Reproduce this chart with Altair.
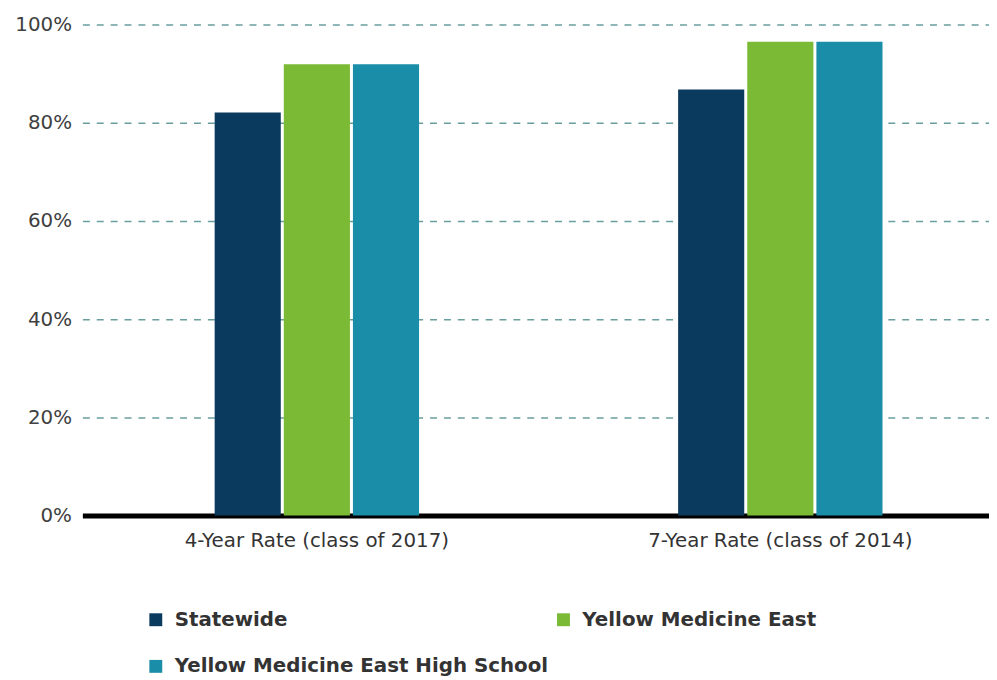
import altair as alt
import pandas as pd

groups = ["4-Year Rate (class of 2017)", "7-Year Rate (class of 2014)"]
series = ["Statewide", "Yellow Medicine East", "Yellow Medicine East High School"]
statewide = [0.821, 0.868]
yme = [0.919, 0.965]
yme_hs = [0.919, 0.965]
colors = ["#0b3a5f", "#7aba34", "#1a8ea8"]
y_ticks = [0, 0.2, 0.4, 0.6, 0.8, 1.0]

rows = []
for s, vals in zip(series, [statewide, yme, yme_hs]):
    for g, v in zip(groups, vals):
        rows.append({"group": g, "series": s, "value": v})
df = pd.DataFrame(rows)

chart = alt.Chart(df).mark_bar().encode(
    x=alt.X(
        "group:N", sort=groups, title=None,
        scale=alt.Scale(range=[0, 940], paddingInner=0.559, paddingOuter=0.2854),
        axis=alt.Axis(labelAngle=0, labelFontSize=20, labelFont="DejaVu Sans",
                      labelColor="#333333", domainColor="#000000", domainWidth=5,
                      ticks=False, labelPadding=15, grid=False, labelLimit=0),
    ),
    xOffset=alt.XOffset("series:N", sort=series, scale=alt.Scale(paddingInner=0.0435)),
    y=alt.Y(
        "value:Q", title=None, scale=alt.Scale(domain=[0, 1]),
        axis=alt.Axis(format=".0%", values=y_ticks, labelFontSize=20, labelFont="DejaVu Sans",
                      labelColor="#404040", domain=False, ticks=False, labelPadding=11,
                      grid=True, gridColor="#6a9e9e", gridDash=[7, 7], gridWidth=1.5),
    ),
    color=alt.Color(
        "series:N", sort=series,
        scale=alt.Scale(domain=series, range=colors),
        legend=alt.Legend(title=None, orient="none", legendX=64, legendY=590, columns=2,
                          direction="horizontal",
                          symbolType="square", symbolSize=169, symbolStrokeWidth=0,
                          labelFontSize=20, labelFont="DejaVu Sans", labelFontWeight="bold",
                          labelColor="#333333", labelOffset=9, rowPadding=27, columnPadding=5,
                          labelLimit=0),
    ),
).properties(
    width=914, height=495,
    autosize=alt.AutoSizeParams(type="none"),
    padding={"left": 75, "top": 14, "right": 0, "bottom": 161},
).configure_view(stroke=None)

chart.save("out.html", embed_options={"renderer": "svg", "actions": False})
